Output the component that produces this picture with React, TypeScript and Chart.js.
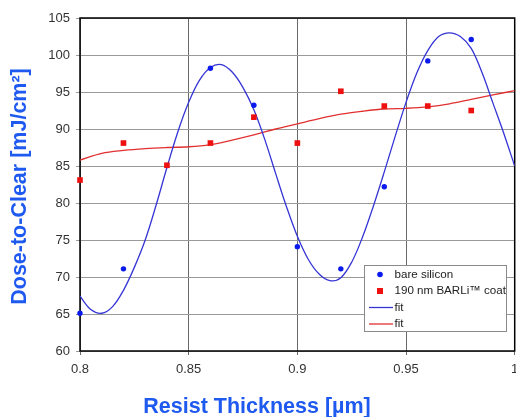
import React, { useEffect, useRef } from "react";
import { Chart, registerables } from "chart.js";

Chart.register(...registerables);

// ---- data ----
const bareX = [0.8, 0.82, 0.86, 0.88, 0.9, 0.92, 0.94, 0.96, 0.98];
const bareY = [65.1, 71.1, 98.2, 93.2, 74.1, 71.1, 82.2, 99.2, 102.1];

const barliX = [0.8, 0.82, 0.84, 0.86, 0.88, 0.9, 0.92, 0.94, 0.96, 0.98];
const barliY = [83.1, 88.1, 85.1, 88.1, 91.6, 88.1, 95.1, 93.1, 93.1, 92.5];

const blueFitX = [
  0.8, 0.805, 0.81, 0.815, 0.82, 0.825, 0.83, 0.835, 0.84, 0.845, 0.85, 0.855,
  0.86, 0.865, 0.87, 0.875, 0.88, 0.885, 0.89, 0.895, 0.9, 0.905, 0.91, 0.915,
  0.92, 0.925, 0.93, 0.935, 0.94, 0.945, 0.95, 0.955, 0.96, 0.965, 0.97, 0.975,
  0.98, 0.985, 0.99, 0.995, 1.0,
];
const blueFitY = [
  67.4, 65.6, 65.1, 66.0, 68.2, 71.3, 75.0, 79.7, 84.8, 89.6, 93.6, 96.6,
  98.3, 98.7, 97.7, 95.6, 92.6, 88.6, 84.0, 79.5, 75.5, 72.4, 70.4, 69.5,
  69.9, 72.0, 75.4, 79.6, 84.2, 89.0, 93.6, 97.6, 100.6, 102.5, 103.0, 102.5,
  100.9, 97.6, 93.5, 89.4, 85.0,
];

const redFitX = [
  0.8, 0.81, 0.82, 0.83, 0.84, 0.85, 0.86, 0.87, 0.88, 0.89, 0.9, 0.91, 0.92,
  0.93, 0.94, 0.95, 0.96, 0.97, 0.98, 0.99, 1.0,
];
const redFitY = [
  85.8, 86.7, 87.1, 87.35, 87.5, 87.6, 87.9, 88.5, 89.2, 90.0, 90.7, 91.4, 92.0,
  92.4, 92.7, 92.8, 93.0, 93.4, 94.0, 94.6, 95.2,
];

const xTickValues = [0.8, 0.85, 0.9, 0.95, 1.0];
const xTickLabels = ["0.8", "0.85", "0.9", "0.95", "1"];
const yTickValues = [60, 65, 70, 75, 80, 85, 90, 95, 100, 105];
const yTickLabels = ["60", "65", "70", "75", "80", "85", "90", "95", "100", "105"];

const seriesLabels = ["bare silicon", "190 nm BARLi\u2122 coat", "fit", "fit"];
const xTitle = "Resist Thickness [\u00b5m]";
const yTitle = "Dose-to-Clear [mJ/cm\u00b2]";

const pts = (xs: number[], ys: number[]) => xs.map((x, i) => ({ x, y: ys[i] }));

const TITLE_COLOR = "#1f5af0";
const FONT = "Arial, 'Liberation Sans', Helvetica, sans-serif";

export default function App() {
  const ref = useRef<HTMLCanvasElement | null>(null);

  useEffect(() => {
    if (!ref.current) return;

    const framePlugin = {
      id: "frame",
      beforeDatasetsDraw(chart: any) {
        const { ctx, chartArea: a } = chart;
        ctx.save();
        ctx.strokeStyle = "#000";
        ctx.lineWidth = 1.5;
        ctx.strokeRect(a.left, a.top, a.right - a.left, a.bottom - a.top);
        ctx.restore();
      },
    };

    const titlesPlugin = {
      id: "titles",
      afterDraw(chart: any) {
        const ctx = chart.ctx;
        ctx.save();
        ctx.fillStyle = TITLE_COLOR;
        ctx.font = `bold 21.5px ${FONT}`;
        ctx.textAlign = "center";
        ctx.textBaseline = "alphabetic";
        ctx.fillText(xTitle, 257, 413);
        ctx.translate(26, 186.5);
        ctx.rotate(-Math.PI / 2);
        ctx.fillText(yTitle, 0, 0);
        ctx.restore();
      },
    };

    const legendPlugin = {
      id: "boxLegend",
      afterDraw(chart: any) {
        const ctx = chart.ctx;
        const bx = 364.5, by = 265.5, bw = 142, bh = 66;
        ctx.save();
        ctx.fillStyle = "#fff";
        ctx.fillRect(bx, by, bw, bh);
        ctx.strokeStyle = "#8a8a8a";
        ctx.lineWidth = 1;
        ctx.strokeRect(bx, by, bw, bh);
        ctx.font = `11.6px ${FONT}`;
        ctx.textBaseline = "middle";
        ctx.textAlign = "left";
        const rows = [274.5, 291, 307.5, 324];
        chart.data.datasets.forEach((ds: any, i: number) => {
          const cy = rows[i];
          if (ds.showLine) {
            ctx.strokeStyle = ds.borderColor;
            ctx.lineWidth = 1.3;
            ctx.beginPath();
            ctx.moveTo(369, cy);
            ctx.lineTo(393, cy);
            ctx.stroke();
          } else {
            ctx.fillStyle = ds.backgroundColor;
            if (ds.pointStyle === "rect") {
              ctx.fillRect(377, cy - 3, 6, 6);
            } else {
              ctx.beginPath();
              ctx.arc(380, cy, 2.8, 0, Math.PI * 2);
              ctx.fill();
            }
          }
          ctx.fillStyle = "#222";
          ctx.fillText(ds.label, 394.5, cy);
        });
        ctx.restore();
      },
    };

    const chart = new Chart(ref.current, {
      type: "scatter",
      data: {
        datasets: [
          {
            label: seriesLabels[0],
            data: pts(bareX, bareY),
            backgroundColor: "#0a1aee",
            borderColor: "#0a1aee",
            pointStyle: "circle",
            pointRadius: 2.7,
            borderWidth: 0,
            clip: false,
          },
          {
            label: seriesLabels[1],
            data: pts(barliX, barliY),
            backgroundColor: "#ee1010",
            borderColor: "#ee1010",
            pointStyle: "rect",
            pointRadius: 4,
            borderWidth: 0,
            clip: false,
          },
          {
            label: seriesLabels[2],
            data: pts(blueFitX, blueFitY),
            showLine: true,
            borderColor: "#3535d5",
            backgroundColor: "#3535d5",
            borderWidth: 1.3,
            pointRadius: 0,
            tension: 0.35,
          },
          {
            label: seriesLabels[3],
            data: pts(redFitX, redFitY),
            showLine: true,
            borderColor: "#e23030",
            backgroundColor: "#e23030",
            borderWidth: 1.3,
            pointRadius: 0,
            tension: 0.35,
          },
        ] as any,
      },
      options: {
        animation: false,
        responsive: false,
        devicePixelRatio: 1,
        layout: { autoPadding: false, padding: { top: 18, right: 1.3, left: 0, bottom: 0 } },
        plugins: {
          legend: { display: false },
          tooltip: { enabled: false },
          title: { display: false },
        },
        scales: {
          x: {
            type: "linear",
            min: 0.8,
            max: 1.0,
            afterBuildTicks: (s: any) => {
              s.ticks = xTickValues.map((v) => ({ value: v }));
            },
            afterFit: (s: any) => {
              s.height = 66;
              s.paddingLeft = 0;
              s.paddingRight = 0;
            },
            ticks: {
              callback: (v: any) => xTickLabels[xTickValues.indexOf(v)] ?? "",
              color: "#333",
              font: { family: FONT, size: 13 },
              padding: 7,
              maxRotation: 0,
              autoSkip: false,
            },
            grid: { color: "#6a6a6a", lineWidth: 1, tickLength: 4 },
            border: { display: false },
          },
          y: {
            type: "linear",
            min: 60,
            max: 105,
            afterBuildTicks: (s: any) => {
              s.ticks = yTickValues.map((v) => ({ value: v }));
            },
            afterFit: (s: any) => {
              s.width = 80;
              s.paddingTop = 0;
              s.paddingBottom = 0;
            },
            ticks: {
              callback: (v: any) => yTickLabels[yTickValues.indexOf(v)] ?? "",
              color: "#333",
              font: { family: FONT, size: 13 },
              padding: 6,
              autoSkip: false,
            },
            grid: { color: "#9a9a9a", lineWidth: 1, tickLength: 4 },
            border: { display: false },
          },
        },
      } as any,
      plugins: [framePlugin, titlesPlugin, legendPlugin],
    });

    return () => chart.destroy();
  }, []);

  return (
    <div
      style={{
        position: "absolute",
        left: 0,
        top: 0,
        width: 516,
        height: 417,
        background: "#fff",
      }}
    >
      <canvas ref={ref} width={516} height={417} style={{ display: "block" }} />
    </div>
  );
}
